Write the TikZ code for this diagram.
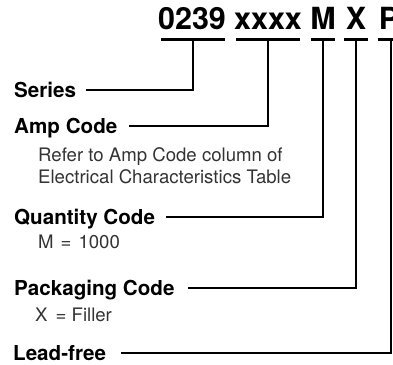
\documentclass[tikz,border=0pt]{standalone}
\usepackage{fontspec}
\setmainfont{TeX Gyre Heros}
\usetikzlibrary{positioning}

\tikzset{
  partno/.style={font=\bfseries\fontsize{30.5}{31}\selectfont, anchor=base, inner sep=0pt},
  bar/.style={fill=black, inner sep=0pt, minimum height=3.5pt},
  field/.style={font=\bfseries\fontsize{20.6}{22}\selectfont, anchor=base west, inner sep=0pt, text height=14pt, text depth=0pt},
  note/.style={font=\fontsize{18.6}{22}\selectfont, color=black!80, anchor=base west, inner sep=0pt},
  lead/.style={line width=1.4pt},
}

\begin{document}
\begin{tikzpicture}[x=1pt, y=-1pt]
		%%%%% FRAME %%%%%
		\useasboundingbox (0, 0) rectangle (393, 364);
		
		%%%%% PART NUMBER %%%%%
		\node[partno] (pSeries) at (192, 29) {0239};
		\node[partno] (pAmp) at (268, 29) {xxxx};
		\node[partno] (pQty) at (323, 29) {M};
		\node[partno] (pPack) at (356, 29) {X};
		\node[partno] (pLead) at (389, 29) {P};
		
		\node[bar, minimum width=64pt] (bSeries) at (193, 39.5) {};
		\node[bar, minimum width=64pt] (bAmp) at (268, 39.5) {};
		\node[bar, minimum width=24pt] (bQty) at (323, 39.5) {};
		\node[bar, minimum width=24pt] (bPack) at (356, 39.5) {};
		\node[bar, minimum width=26pt] (bLead) at (391, 39.5) {};
		
		%%%%% FIELDS %%%%%
		\node[field] (series) at (14, 97) {Series};
		\node[field] (amp) at (14, 133) {Amp Code};
		\node[note] (ampnote) at (38, 161) {Refer to Amp Code column of};
		\node[note] (ampnote2) at (38, 183) {Electrical Characteristics Table};
		\node[field] (qty) at (14, 224) {Quantity Code};
		\node[note] (qtynote) at (38, 248) {M\hspace{7pt}=\hspace{7pt}1000};
		\node[field] (pack) at (14, 295) {Packaging Code};
		\node[note] (packnote) at (35, 321) {X\hspace{8pt}= Filler};
		\node[field] (lead) at (13, 360) {Lead-free};
		
		%%%%% LEADERS %%%%%
		\draw[lead] (bSeries.south) |- ([xshift=10pt]series.east);
		\draw[lead] (bAmp.south) |- ([xshift=11pt]amp.east);
		\draw[lead] (bQty.south) |- ([xshift=11pt]qty.east);
		\draw[lead] (bPack.south) |- ([xshift=13pt]pack.east);
		\draw[lead] (bLead.south) |- ([xshift=15pt]lead.east);
		
		%%%%% END %%%%%
	\end{tikzpicture}
\end{document}
